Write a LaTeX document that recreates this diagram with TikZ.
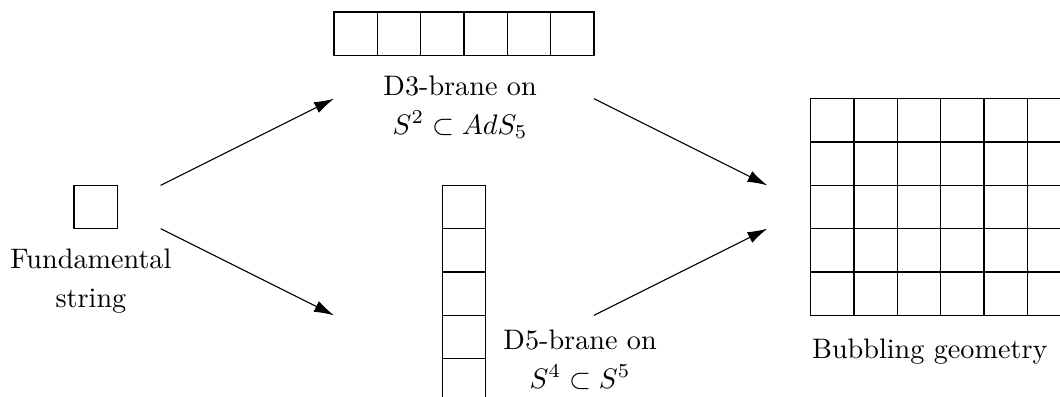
\documentclass[tikz,border=0pt]{standalone}
\usetikzlibrary{arrows.meta}
\begin{document}
\begin{tikzpicture}[x=15.365pt,y=-15.365pt,
  cellline/.style={draw, line width=0.45pt},
  arr/.style={-{Latex[length=7pt,width=4.2pt]}, line width=0.4pt},
  lbl/.style={anchor=base, inner sep=0pt}]
\useasboundingbox (-7.708,-0.277) rectangle (16.755,8.862);
\clip (-7.708,-0.277) rectangle (16.755,8.862);
% single box
\node[cellline, minimum size=15.365pt, inner sep=0pt] (fbox) at (-5.5,4.5) {};
% top row
\foreach \i in {0,...,5} \draw[cellline] (\i,0) rectangle +(1,1);
% column
\foreach \j in {0,...,4} \draw[cellline] (2.5,4+\j) rectangle +(1,1);
% grid
\foreach \i in {0,...,5} \foreach \j in {0,...,4} \draw[cellline] (11+\i,2+\j) rectangle +(1,1);
% labels
\node[lbl] (fundA) at (-5.61,5.93) {Fundamental};
\node[lbl] (fundB) at (-5.61,6.81) {string};
\node[lbl] (d3A) at (2.91,1.92) {D3-brane on};
\node[lbl] (d3B) at (2.91,2.82) {$S^2\subset AdS_5$};
\node[lbl] (d5A) at (5.68,7.78) {D5-brane on};
\node[lbl] (d5B) at (5.68,8.68) {$S^4\subset S^5$};
\node[lbl] (bub) at (13.75,7.99) {Bubbling geometry};
% arrow end points
\coordinate (a1s) at (-4,4); \coordinate (a1e) at (0,2);
\coordinate (a2s) at (-4,5); \coordinate (a2e) at (0,7);
\coordinate (a3s) at (6,2);  \coordinate (a3e) at (10,4);
\coordinate (a4s) at (6,7);  \coordinate (a4e) at (10,5);
\draw[arr] (a1s) -- (a1e);
\draw[arr] (a2s) -- (a2e);
\draw[arr] (a3s) -- (a3e);
\draw[arr] (a4s) -- (a4e);
\end{tikzpicture}
\end{document}
